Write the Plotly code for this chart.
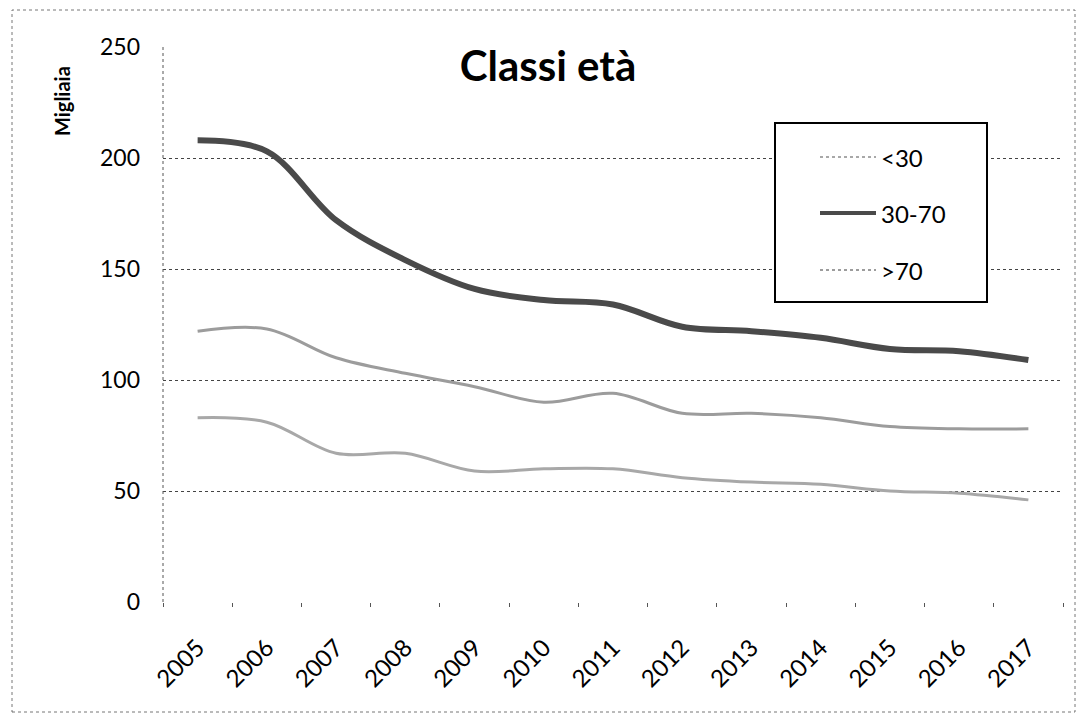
import plotly.graph_objects as go

# Age classes over time (thousands)
years = [str(y) for y in range(2005, 2018)]
under_30 = [83, 81, 67, 67, 59, 60, 60, 56, 54, 53, 50, 49, 46]
age_30_70 = [208, 203, 172, 154, 141, 136, 134, 124, 122, 119, 114, 113, 109]
over_70 = [122, 123, 110, 103, 97, 90, 94, 85, 85, 83, 79, 78, 78]

series_names = ["<30", "30-70", ">70"]
series_values = [under_30, age_30_70, over_70]
series_colors = ["#a8a8a8", "#4a4a4a", "#9c9c9c"]
series_widths = [3, 6, 3]
y_ticks = [0, 50, 100, 150, 200, 250]

FONT = "Lato"

fig = go.Figure()
for name, vals, col, w in zip(series_names, series_values, series_colors, series_widths):
    fig.add_trace(go.Scatter(
        x=years, y=vals, name=name, mode="lines",
        line=dict(color=col, width=w, shape="spline", smoothing=1),
        showlegend=False,
    ))

# plot area in pixels: x 163..1063, y 47..602
L, R, T, B = 163, 1063, 47, 602
W, H = R - L, B - T


def px_x(x):
    return (x - L) / W


def px_y(y):
    return (B - y) / H


shapes = []
annotations = []

# outer dotted frame
shapes.append(dict(type="rect", xref="paper", yref="paper",
                   x0=px_x(12), x1=px_x(1075), y0=px_y(712), y1=px_y(10),
                   line=dict(color="#777", width=1, dash="dot")))
# dotted left axis
shapes.append(dict(type="line", xref="paper", yref="paper",
                   x0=0, x1=0, y0=0, y1=1,
                   line=dict(color="#555", width=1, dash="dot")))

# legend box
shapes.append(dict(type="rect", xref="paper", yref="paper",
                   x0=px_x(775), x1=px_x(987), y0=px_y(302), y1=px_y(123),
                   line=dict(color="black", width=2), fillcolor="white"))
legend_rows = [157, 213, 270]
for name, col, w, row in zip(series_names, series_colors, series_widths, legend_rows):
    shapes.append(dict(type="line", xref="paper", yref="paper",
                       x0=px_x(820), x1=px_x(876), y0=px_y(row), y1=px_y(row),
                       line=dict(color=col, width=max(2, w - 2), dash="dot" if w < 5 else "solid")))
    annotations.append(dict(xref="paper", yref="paper", x=px_x(879), y=px_y(row),
                            text=name, showarrow=False, xanchor="left", yanchor="middle",
                            font=dict(family=FONT, size=24, color="black")))

# y axis caption
annotations.append(dict(xref="paper", yref="paper", x=px_x(62), y=px_y(101),
                        text="<b>Migliaia</b>", showarrow=False, textangle=-90,
                        xanchor="center", yanchor="middle",
                        font=dict(family=FONT, size=20, color="black")))

fig.update_layout(
    width=1080, height=717,
    margin=dict(l=L, r=1080 - R, t=T, b=717 - B),
    paper_bgcolor="white", plot_bgcolor="white",
    title=dict(text="<b>Classi età</b>", x=548 / 1080, y=1 - 66 / 717,
               xanchor="center", yanchor="middle",
               font=dict(family=FONT, size=42, color="black")),
    xaxis=dict(type="category", range=[-0.5, 12.5], showgrid=False,
               ticks="outside", tickson="boundaries", ticklen=4, tickcolor="#555",
               tickangle=-45, showline=False, zeroline=False,
               ticklabelstandoff=26,
               tickfont=dict(family=FONT, size=24, color="black")),
    yaxis=dict(range=[0, 250], tickvals=y_ticks, showgrid=True,
               gridcolor="#444", gridwidth=1, griddash="dot",
               zeroline=False, showline=False, ticks="",
               ticklabelstandoff=22,
               tickfont=dict(family=FONT, size=23, color="black")),
    shapes=shapes, annotations=annotations,
    showlegend=False,
)

fig.write_html("out.html")
